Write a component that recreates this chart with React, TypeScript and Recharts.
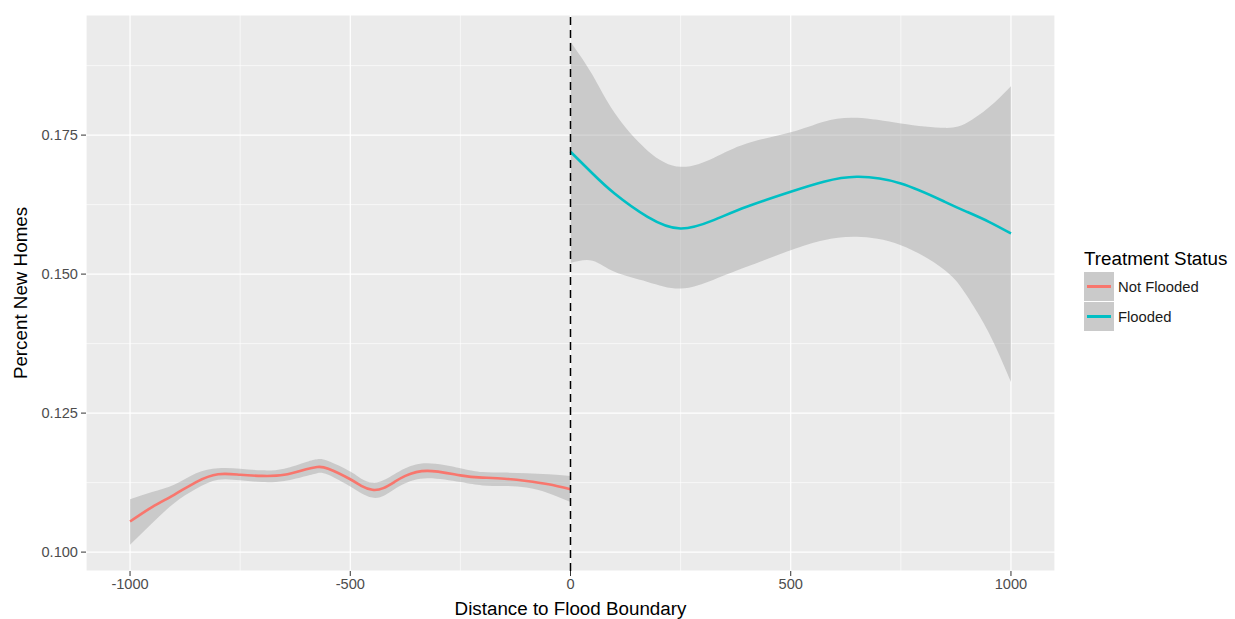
import {
  ComposedChart, Area, Line, XAxis, YAxis, CartesianGrid,
  ReferenceLine, Legend,
} from 'recharts'

// distance to boundary (ft) and smoothed estimates
const notFloodedX = [-1000, -950, -900, -850, -800, -750, -700, -650, -600, -575, -550, -500, -475, -450, -425, -400, -375, -325, -250, -200, -150, -100, -50, 0]
const notFloodedY = [0.1055, 0.1081, 0.1103, 0.1126, 0.1140, 0.1139, 0.1137, 0.1139, 0.1149, 0.1153, 0.1150, 0.1131, 0.1119, 0.1112, 0.1115, 0.1126, 0.1137, 0.1146, 0.1138, 0.1134, 0.1132, 0.1128, 0.1122, 0.1113]
const notFloodedLo = [0.1013, 0.1052, 0.1088, 0.1114, 0.1130, 0.1129, 0.1126, 0.1128, 0.1137, 0.1142, 0.1139, 0.1118, 0.1106, 0.1098, 0.1101, 0.1113, 0.1124, 0.1133, 0.1126, 0.1120, 0.1119, 0.1116, 0.1106, 0.1090]
const notFloodedHi = [0.1095, 0.1108, 0.1121, 0.1142, 0.1151, 0.1150, 0.1147, 0.1150, 0.1162, 0.1167, 0.1164, 0.1145, 0.1132, 0.1125, 0.1129, 0.1140, 0.1151, 0.1160, 0.1151, 0.1144, 0.1143, 0.1142, 0.1140, 0.1137]

const floodedX = [0, 50, 100, 175, 250, 325, 400, 500, 575, 650, 750, 850, 900, 950, 1000]
const floodedY = [0.1720, 0.1681, 0.1645, 0.1603, 0.1582, 0.1597, 0.1621, 0.1648, 0.1666, 0.1675, 0.1663, 0.1630, 0.1612, 0.1594, 0.1573]
const floodedLo = [0.1520, 0.1524, 0.1504, 0.1486, 0.1474, 0.1490, 0.1513, 0.1543, 0.1561, 0.1567, 0.1552, 0.1507, 0.1461, 0.1394, 0.1306]
const floodedHi = [0.1918, 0.1858, 0.1790, 0.1722, 0.1693, 0.1709, 0.1735, 0.1755, 0.1774, 0.1781, 0.1771, 0.1763, 0.1772, 0.1800, 0.1838]

const xTicks = [-1000, -500, 0, 500, 1000]
const xMinor = [-750, -250, 250, 750]
const yTicks = [0.1, 0.125, 0.15, 0.175]
const yMinor = [0.1125, 0.1375, 0.1625, 0.1875]

const series = [
  { name: 'Not Flooded', color: '#F8766D' },
  { name: 'Flooded', color: '#00BFC4' },
]

const notFlooded = notFloodedX.map((x, i) => ({ x, y: notFloodedY[i], band: [notFloodedLo[i], notFloodedHi[i]] }))
const flooded = floodedX.map((x, i) => ({ x, y: floodedY[i], band: [floodedLo[i], floodedHi[i]] }))

const FONT = '"Liberation Sans", Arial, sans-serif'
const tickStyle = { fontSize: 14.6, fill: '#4D4D4D', fontFamily: FONT }

function LegendBox() {
  return (
    <div style={{ fontFamily: FONT, color: '#000' }}>
      <div style={{ fontSize: 18.8, lineHeight: '22px', marginBottom: 2 }}>Treatment Status</div>
      {series.map(s => (
        <div key={s.name} style={{ display: 'flex', alignItems: 'center', height: 30 }}>
          <div style={{
            width: 30, height: 29, background: '#CACACA', marginBottom: 1,
            display: 'flex', alignItems: 'center', justifyContent: 'center',
          }}>
            <div style={{ width: 24, height: 2.6, background: s.color }} />
          </div>
          <span style={{ fontSize: 14.8, marginLeft: 4, color: '#1a1a1a' }}>{s.name}</span>
        </div>
      ))}
    </div>
  )
}

export default function App() {
  return (
    <div style={{ position: 'absolute', left: 0, top: 0, width: 1235, height: 619, background: '#fff' }}>
      <ComposedChart width={1235} height={619} margin={{ top: 15, right: 180, bottom: 0, left: 0 }}>
        <CartesianGrid
          fill="#EBEBEB" stroke="#FFFFFF" strokeWidth={0.6}
          horizontalValues={yMinor} verticalValues={xMinor}
        />
        <CartesianGrid stroke="#FFFFFF" strokeWidth={1.2} />
        <XAxis
          type="number" dataKey="x" domain={[-1100, 1100]} ticks={xTicks}
          allowDataOverflow axisLine={false} tickSize={5} tickMargin={3}
          tickLine={{ stroke: '#333333' }} tick={tickStyle} height={48}
          label={{ value: 'Distance to Flood Boundary', position: 'insideBottom', offset: 4, style: { fontSize: 18.8, fill: '#000', fontFamily: FONT } }}
        />
        <YAxis
          type="number" domain={[0.0966, 0.1966]} ticks={yTicks}
          allowDataOverflow axisLine={false} tickSize={5} tickMargin={3}
          tickLine={{ stroke: '#333333' }} tick={tickStyle} width={86}
          tickFormatter={v => v.toFixed(3)}
          label={{ value: 'Percent New Homes', angle: -90, position: 'insideLeft', offset: 20, style: { textAnchor: 'middle', fontSize: 18.8, fill: '#000', fontFamily: FONT } }}
        />
        <Area data={notFlooded} dataKey="band" type="natural" stroke="none" fill="#999999" fillOpacity={0.4} isAnimationActive={false} legendType="none" />
        <Area data={flooded} dataKey="band" type="natural" stroke="none" fill="#999999" fillOpacity={0.4} isAnimationActive={false} legendType="none" />
        <Line data={notFlooded} dataKey="y" name="Not Flooded" type="natural" stroke={series[0].color} strokeWidth={2.6} dot={false} activeDot={false} isAnimationActive={false} />
        <Line data={flooded} dataKey="y" name="Flooded" type="natural" stroke={series[1].color} strokeWidth={2.6} dot={false} activeDot={false} isAnimationActive={false} />
        <ReferenceLine x={0} stroke="#000000" strokeWidth={1.5} strokeDasharray="8 5" />
        <Legend
          layout="vertical" align="center" verticalAlign="middle"
          content={<LegendBox />}
          wrapperStyle={{ left: 1084, top: 248, width: 151, height: 90 }}
        />
      </ComposedChart>
    </div>
  )
}
